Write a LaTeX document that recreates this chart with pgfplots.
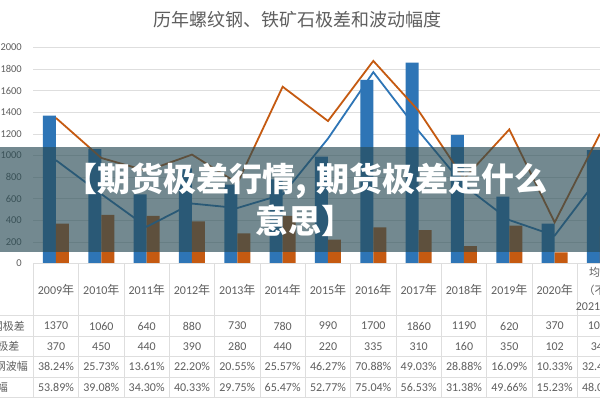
\documentclass[border=0pt]{standalone}
\usepackage{fontspec}
\usepackage{pgfplots}
\usepackage{pgfplotstable}
\pgfplotsset{compat=1.18}
\setmainfont{Carlito}
\newfontfamily\cjk{Noto Sans CJK SC}
\definecolor{cblue}{RGB}{46,117,182}
\definecolor{corange}{RGB}{197,90,17}
\definecolor{txtgray}{RGB}{95,95,95}
\definecolor{gridgray}{RGB}{222,222,222}
\definecolor{bandcol}{RGB}{40,75,85}
\pgfplotstableread{
x rb io rw iw
0 1370 370 38.24 53.89
1 1060 450 25.73 39.08
2 640 440 13.61 34.30
3 880 390 22.20 40.33
4 730 280 20.55 29.75
5 780 440 25.57 65.47
6 990 220 46.27 52.77
7 1700 335 70.88 75.04
8 1860 310 49.03 56.53
9 1190 160 28.88 31.38
10 620 350 16.09 49.66
11 370 102 10.33 15.23
12 1050 343 32.45 48.05
}\data
\newcommand\yr[1]{#1{\cjk 年}}
\begin{document}
\begin{tikzpicture}[x=1pt,y=1pt]
\path[use as bounding box] (0,0) rectangle (600,400);
\clip (0,0) rectangle (600,400);
\fill[white] (0,0) rectangle (600,400);
\begin{axis}[at={(33.33pt,136.5pt)}, anchor=south west,
  width=589.33pt, height=216pt, scale only axis,
  xmin=-0.5, xmax=12.5, ymin=0, ymax=2000,
  xtick=\empty, ytick={0,200,...,2000},
  ymajorgrids, grid style={gridgray, line width=0.8pt},
  axis line style={draw=none}, major tick length=0pt,
  yticklabel style={font=\fontsize{10.5}{12}\selectfont, text=txtgray, xshift=-8pt,
    /pgf/number format/1000 sep={}},
  /pgf/number format/assume math mode=true,
  ybar=0pt, bar width=13pt]
\addplot[fill=cblue, draw=none] table[x=x,y=rb]{\data};
\addplot[fill=corange, draw=none] table[x=x,y=io]{\data};
\end{axis}
\begin{axis}[at={(33.33pt,136.5pt)}, anchor=south west,
  width=589.33pt, height=216pt, scale only axis,
  xmin=-0.5, xmax=12.5, ymin=0, ymax=80, hide axis]
\addplot[cblue, line width=1.8pt, no marks] table[x=x,y=rw]{\data};
\addplot[corange, line width=1.8pt, no marks] table[x=x,y=iw]{\data};
\end{axis}
% data table
\draw[gridgray, line width=0.8pt] (33.33,136.5) -- (623,136.5);
\foreach \yy in {85,64,43.5,23,3} \draw[gridgray, line width=0.8pt] (0,\yy) -- (623,\yy);
\foreach \k in {0,...,13} \draw[gridgray, line width=0.8pt] ({33.33+45.333*\k},3) -- ({33.33+45.333*\k},136.5);
\begin{scope}[every node/.style={text=txtgray, font=\fontsize{12}{14}\selectfont, inner sep=0pt}]
\foreach \lab [count=\i from 0] in {2009,2010,2011,2012,2013,2014,2015,2016,2017,2018,2019,2020}
  \node at ({56+45.333*\i},110) {\yr{\lab}};
\node[font=\cjk\fontsize{11}{14}\selectfont] at (600,128) {均值};
\node[font=\cjk\fontsize{11}{14}\selectfont] at (600,110) {（不含};
\node at (600,94) {2021{\cjk 年）}};
\foreach \v [count=\i from 0] in {1370,1060,640,880,730,780,990,1700,1860,1190,620,370,1050}
  \node at ({56+45.333*\i},74) {\v};
\foreach \v [count=\i from 0] in {370,450,440,390,280,440,220,335,310,160,350,102,343}
  \node at ({56+45.333*\i},53.5) {\v};
\foreach \v [count=\i from 0] in {38.24,25.73,13.61,22.20,20.55,25.57,46.27,70.88,49.03,28.88,16.09,10.33,32.45}
  \node at ({56+45.333*\i},33.5) {\v\%};
\foreach \v [count=\i from 0] in {53.89,39.08,34.30,40.33,29.75,65.47,52.77,75.04,56.53,31.38,49.66,15.23,48.05}
  \node at ({56+45.333*\i},13) {\v\%};
\node[anchor=east, font=\cjk\fontsize{11}{14}\selectfont] at (25,74) {螺纹钢极差};
\node[anchor=east, font=\cjk\fontsize{11}{14}\selectfont] at (19.5,53.5) {铁矿石极差};
\node[anchor=east, font=\cjk\fontsize{11}{14}\selectfont] at (28,33.5) {螺纹钢波幅};
\node[anchor=east, font=\cjk\fontsize{11}{14}\selectfont] at (8,13) {铁矿石波幅};
\end{scope}
% title
\node[text=txtgray, font=\cjk\fontsize{18}{20}\selectfont] at (297,380) {历年螺纹钢、铁矿石极差和波动幅度};
% banner
\fill[bandcol, opacity=0.65] (0,148.3) rectangle (600,252.7);
\node[text=white, font=\cjk\bfseries\fontsize{33}{36}\selectfont, inner sep=0pt] at (306,219) {【期货极差行情,\hspace{0.3em}期货极差是什么};
\node[text=white, font=\cjk\bfseries\fontsize{33}{36}\selectfont, inner sep=0pt] at (305,179) {意思】};
\end{tikzpicture}
\end{document}
